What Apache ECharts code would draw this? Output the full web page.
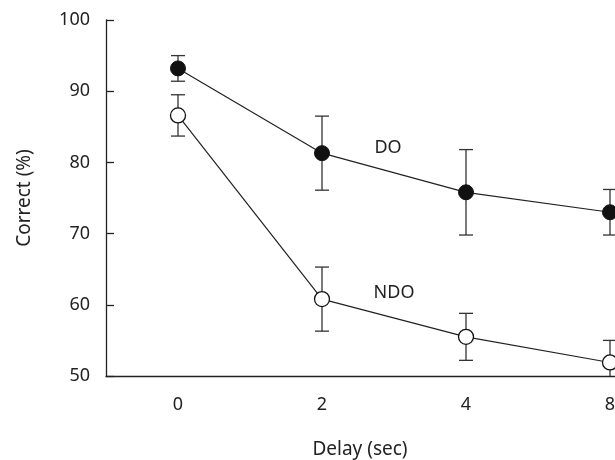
<!DOCTYPE html>
<html style="height:100%;">
<head>
    <meta charset="utf-8">
    <title>Correct vs Delay</title>
    <script src="https://cdn.jsdelivr.net/npm/echarts@6/dist/echarts.min.js"></script>
</head>
<body style="height: 100%; margin: 0; background: #fff;">
    <div id="main" style="width: 615px; height: 460px;"></div>
    <script type="text/javascript">
    // delay categories (sec)
    var delays = ['0', '2', '4', '8'];
    // mean % correct
    var doMean = [93.2, 81.3, 75.8, 73.0];
    var ndoMean = [86.6, 60.8, 55.5, 51.9];
    // error (+/-)
    var doErr = [1.8, 5.2, 6.0, 3.2];
    var ndoErr = [2.9, 4.5, 3.3, 3.1];
    var yTicks = [50, 60, 70, 80, 90, 100];

    var fontFam = 'Noto Sans';
    var ink = '#222';

    function errData(mean, err) {
        return mean.map(function (m, i) {
            return [i, m - err[i], m + err[i]];
        });
    }

    function errorBars(name, mean, err) {
        return {
            name: name + ' err',
            type: 'custom',
            clip: true,
            z: 1,
            silent: true,
            data: errData(mean, err),
            renderItem: function (params, api) {
                var lo = api.coord([api.value(0), api.value(1)]);
                var hi = api.coord([api.value(0), api.value(2)]);
                var w = 7;
                var st = { stroke: '#333', lineWidth: 1.3 };
                return {
                    type: 'group',
                    children: [
                        { type: 'line', shape: { x1: hi[0], y1: hi[1], x2: lo[0], y2: lo[1] }, style: st },
                        { type: 'line', shape: { x1: hi[0] - w, y1: hi[1], x2: hi[0] + w, y2: hi[1] }, style: st },
                        { type: 'line', shape: { x1: lo[0] - w, y1: lo[1], x2: lo[0] + w, y2: lo[1] }, style: st }
                    ]
                };
            }
        };
    }

    function withLabel(values, idx, text, offset) {
        return values.map(function (v, i) {
            if (i !== idx) return v;
            return {
                value: v,
                label: {
                    show: true,
                    formatter: text,
                    position: 'inside',
                    offset: offset,
                    color: ink,
                    fontFamily: fontFam,
                    fontSize: 18
                }
            };
        });
    }

    var myChart = echarts.init(document.getElementById('main'));
    myChart.setOption({
        animation: false,
        grid: {
            left: 106,
            width: 576,
            top: 20,
            height: 356,
            outerBoundsMode: 'none',
            containLabel: false
        },
        xAxis: {
            type: 'category',
            data: delays,
            boundaryGap: true,
            name: 'Delay (sec)',
            nameLocation: 'middle',
            nameGap: 64,
            nameTextStyle: { color: ink, fontFamily: fontFam, fontSize: 19, padding: [0, 68, 0, 0] },
            axisLine: { lineStyle: { color: ink, width: 1.3 } },
            axisTick: { inside: true, length: 9, alignWithLabel: true, lineStyle: { color: ink, width: 1.3 } },
            axisLabel: { color: ink, fontFamily: fontFam, fontSize: 18, margin: 20 },
            splitLine: { show: false }
        },
        yAxis: {
            type: 'value',
            min: yTicks[0],
            max: yTicks[yTicks.length - 1],
            interval: 10,
            name: 'Correct (%)',
            nameLocation: 'middle',
            nameGap: 72,
            nameTextStyle: { color: ink, fontFamily: fontFam, fontSize: 19 },
            axisLine: { show: true, lineStyle: { color: ink, width: 1.3 } },
            axisTick: { show: true, inside: true, length: 8, lineStyle: { color: ink, width: 1.3 } },
            axisLabel: { color: ink, fontFamily: fontFam, fontSize: 18, margin: 16 },
            splitLine: { show: false }
        },
        series: [
            errorBars('DO', doMean, doErr),
            errorBars('NDO', ndoMean, ndoErr),
            {
                name: 'DO',
                type: 'line',
                z: 3,
                symbol: 'circle',
                symbolSize: 15,
                data: withLabel(doMean, 1, 'DO', [66, -5]),
                lineStyle: { color: ink, width: 1.2 },
                itemStyle: { color: '#111', borderColor: '#111', borderWidth: 1 }
            },
            {
                name: 'NDO',
                type: 'line',
                z: 3,
                symbol: 'circle',
                symbolSize: 15,
                data: withLabel(ndoMean, 1, 'NDO', [72, -6]),
                lineStyle: { color: ink, width: 1.2 },
                itemStyle: { color: '#fff', borderColor: '#111', borderWidth: 1.3 }
            }
        ]
    });
    </script>
</body>
</html>
